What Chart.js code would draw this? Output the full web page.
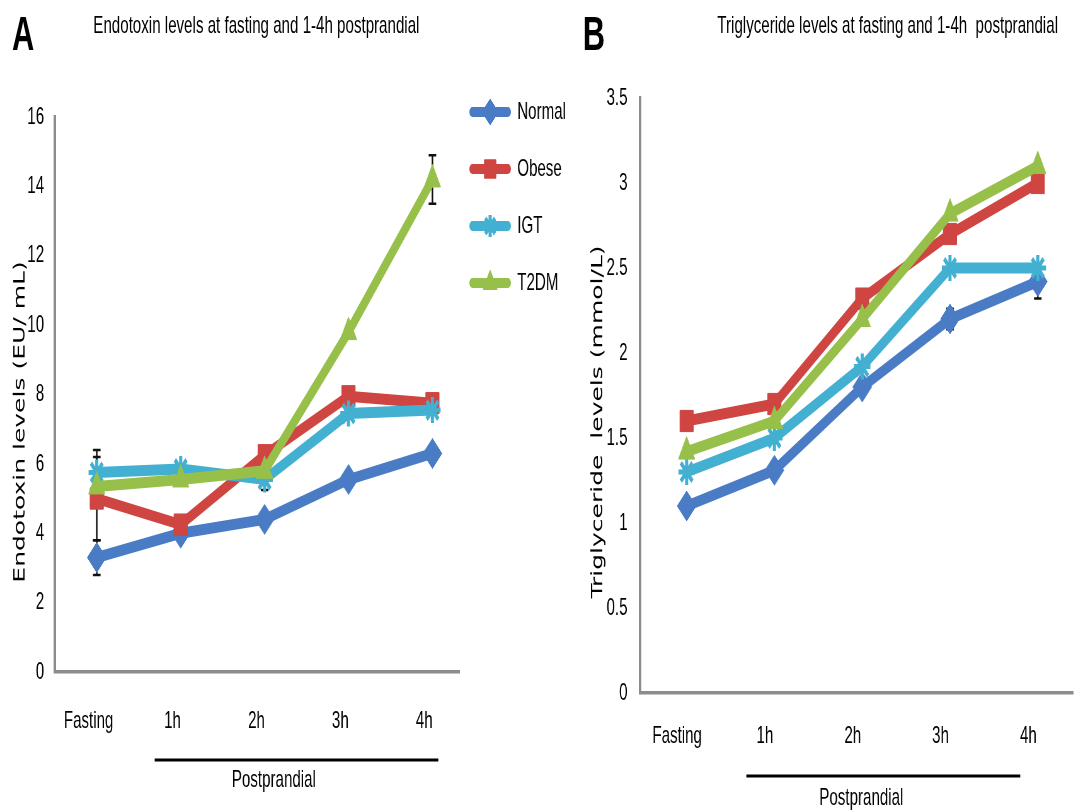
<!DOCTYPE html>
<html>
<head>
<meta charset="utf-8">
<script src="https://cdn.jsdelivr.net/npm/chart.js@4.4.1/dist/chart.umd.min.js"></script>
<style>
  body { margin: 0; background: #fff; overflow: hidden; }
  /* the figure is laid out wide, then squeezed horizontally */
  #fig { position: absolute; left: 0; top: 0; width: 1721px; height: 812px;
         transform: scaleX(0.63); transform-origin: 0 0; }
  .txt { position: absolute; font-family: "Liberation Sans", Arial, sans-serif;
         color: #000; white-space: nowrap; line-height: 1; }
  canvas { position: absolute; top: 0; }
</style>
</head>
<body>
<div id="fig">
  <div class="txt" style="left:19px; top:9px; font-size:49px; font-weight:bold;">A</div>
  <div class="txt" style="left:107px; width:600px; top:13px; font-size:24px; text-align:center;">Endotoxin levels at fasting and 1-4h postprandial</div>
  <div class="txt" style="left:925px; top:9px; font-size:49px; font-weight:bold;">B</div>
  <div class="txt" style="left:1109px; width:600px; top:13px; font-size:24px; text-align:center;">Triglyceride levels at fasting and 1-4h&nbsp; postprandial</div>
  <canvas id="chartA" width="910" height="812" style="left:0"></canvas>
  <canvas id="chartB" width="811" height="812" style="left:910px"></canvas>
</div>
<script>
// groups and time points
const groups = ['Normal', 'Obese', 'IGT', 'T2DM'];
const timeLabels = ['Fasting', '1h', '2h', '3h', '4h'];

// endotoxin (EU/mL)
const endoNormal = [3.3, 4.0, 4.4, 5.55, 6.3];
const endoObese  = [5.0, 4.25, 6.25, 7.95, 7.75];
const endoIGT    = [5.75, 5.85, 5.55, 7.45, 7.55];
const endoT2DM   = [5.35, 5.55, 5.8, 9.8, 14.2];
const endoNormalErr = [0.5, 0, 0, 0, 0];
const endoObeseErr  = [1.2, 0, 0, 0, 0];
const endoIGTErr    = [0.65, 0, 0.3, 0, 0];
const endoT2DMErr   = [0, 0, 0, 0, 0.7];

// triglyceride (mmol/L)
const tgNormal = [1.1, 1.31, 1.8, 2.2, 2.42];
const tgObese  = [1.6, 1.7, 2.32, 2.7, 3.0];
const tgIGT    = [1.3, 1.5, 1.92, 2.5, 2.5];
const tgT2DM   = [1.42, 1.6, 2.2, 2.82, 3.1];
const tgNormalErr = [0, 0, 0, 0.06, 0.1];
const tgObeseErr  = [0, 0, 0, 0, 0];
const tgIGTErr    = [0, 0, 0, 0, 0];
const tgT2DMErr   = [0, 0, 0, 0, 0];

const palette = ['#4a7cc6', '#cf4541', '#43b0d2', '#97c04a'];
const markers = ['rectRot', 'rect', 'star', 'triangle'];
const markerRadius = [15, 15, 13, 15];
const markerBorder = [1, 1, 5, 1];

const tickFont = { family: '"Liberation Sans", Arial, sans-serif', size: 24 };

// error bars, extra axis titles, the "Postprandial" bracket and the legend
const panelDecor = {
  id: 'panelDecor',
  beforeDatasetsDraw(chart) {
    const ctx = chart.ctx;
    const ys = chart.scales.y;
    ctx.save();
    ctx.strokeStyle = '#111';
    ctx.lineWidth = 2.5;
    chart.data.datasets.forEach((ds, d) => {
      const meta = chart.getDatasetMeta(d);
      ds.errors.forEach((e, i) => {
        if (!e) return;
        const x = meta.data[i].x;
        const v = ds.data[i].y;
        const y1 = ys.getPixelForValue(v + e);
        const y2 = ys.getPixelForValue(v - e);
        ctx.beginPath();
        ctx.moveTo(x, y1); ctx.lineTo(x, y2);
        ctx.moveTo(x - 6, y1); ctx.lineTo(x + 6, y1);
        ctx.moveTo(x - 6, y2); ctx.lineTo(x + 6, y2);
        ctx.stroke();
      });
    });
    ctx.restore();
  },
  afterDraw(chart, args, opts) {
    const ctx = chart.ctx;
    const xs = chart.scales.x;
    ctx.save();
    ctx.fillStyle = '#000';

    // rotated y-axis title
    ctx.save();
    ctx.translate(opts.yTitle.x, opts.yTitle.y);
    ctx.rotate(-Math.PI / 2);
    ctx.font = '25px "DejaVu Sans", Verdana, sans-serif';
    ctx.textAlign = 'center';
    ctx.textBaseline = 'middle';
    ctx.fillText(opts.yTitle.text, 0, 0);
    ctx.restore();

    // bracket under the postprandial time points
    const b = opts.bracket;
    ctx.strokeStyle = '#000';
    ctx.lineWidth = 3;
    ctx.beginPath();
    ctx.moveTo(xs.getPixelForValue(b.from), b.y);
    ctx.lineTo(xs.getPixelForValue(b.to), b.y);
    ctx.stroke();
    ctx.font = '24px "Liberation Sans", Arial, sans-serif';
    ctx.textAlign = 'center';
    ctx.textBaseline = 'middle';
    ctx.fillText(b.text, xs.getPixelForValue(b.at), b.textY);

    // legend: line sample with marker, then the group name
    const lg = opts.legend;
    if (lg) {
      chart.data.datasets.forEach((ds, d) => {
        const y = lg.top + d * lg.step;
        ctx.strokeStyle = ds.borderColor;
        ctx.fillStyle = ds.borderColor;
        ctx.lineWidth = 10;
        ctx.lineCap = 'round';
        ctx.beginPath();
        ctx.moveTo(lg.x0, y); ctx.lineTo(lg.x1, y);
        ctx.stroke();
        ctx.lineCap = 'butt';
        ctx.lineWidth = ds.pointBorderWidth;
        Chart.helpers.drawPoint(ctx, {
          pointStyle: ds.pointStyle, radius: ds.pointRadius - 2,
          rotation: 0, borderWidth: ds.pointBorderWidth
        }, (lg.x0 + lg.x1) / 2, y);
        ctx.fillStyle = '#000';
        ctx.font = '24px "Liberation Sans", Arial, sans-serif';
        ctx.textAlign = 'left';
        ctx.textBaseline = 'middle';
        ctx.fillText(ds.label, lg.textX, y);
      });
    }
    ctx.restore();
  }
};

function buildChart(id, series, errs, cfg) {
  const datasets = groups.map((name, g) => ({
    label: name,
    data: series[g].map((v, i) => ({ x: i, y: v })),
    errors: errs[g],
    borderColor: palette[g],
    backgroundColor: palette[g],
    borderWidth: 11,
    pointStyle: markers[g],
    pointRadius: markerRadius[g],
    pointBorderWidth: markerBorder[g],
    pointBorderColor: palette[g],
    pointBackgroundColor: palette[g],
    order: groups.length - g
  }));

  return new Chart(document.getElementById(id), {
    type: 'line',
    data: { datasets },
    plugins: [panelDecor],
    options: {
      responsive: false,
      animation: false,
      layout: { padding: cfg.padding },
      plugins: {
        legend: { display: false },
        tooltip: { enabled: false },
        panelDecor: cfg.decor
      },
      scales: {
        x: {
          type: 'linear',
          min: cfg.xMin,
          max: cfg.xMax,
          afterBuildTicks: s => { s.ticks = timeLabels.map((_, i) => ({ value: i })); },
          afterFit: s => { s.height = cfg.xHeight; },
          grid: { display: false },
          border: { display: true, color: '#8c8c8c', width: 3.5 },
          ticks: {
            autoSkip: false, maxRotation: 0, labelOffset: cfg.xShift,
            padding: cfg.xPad, color: '#000', font: tickFont,
            callback: v => timeLabels[v]
          }
        },
        y: {
          min: 0,
          max: cfg.yMax,
          afterFit: s => { s.width = cfg.yWidth; },
          grid: { display: false },
          border: { display: true, color: '#8c8c8c', width: 4 },
          ticks: {
            stepSize: cfg.yStep, padding: cfg.yPad, color: '#000', font: tickFont,
            callback: v => String(v)
          }
        }
      }
    }
  });
}

const chartA = buildChart('chartA',
  [endoNormal, endoObese, endoIGT, endoT2DM],
  [endoNormalErr, endoObeseErr, endoIGTErr, endoT2DMErr],
  {
    padding: { top: 117, left: 0, right: 181, bottom: 0 },
    xMin: -0.5, xMax: 4.32, xHeight: 140, xPad: 27, xShift: -13,
    yMax: 16, yStep: 2, yWidth: 87, yPad: 9,
    decor: {
      yTitle: { text: 'Endotoxin levels (EU/ mL)', x: 32, y: 422 },
      bracket: { from: 0.69, to: 4.07, y: 760, text: 'Postprandial', at: 2.11, textY: 780 },
      legend: { x0: 750, x1: 806, textX: 821, top: 112, step: 57 }
    }
  });

const chartB = buildChart('chartB',
  [tgNormal, tgObese, tgIGT, tgT2DM],
  [tgNormalErr, tgObeseErr, tgIGTErr, tgT2DMErr],
  {
    padding: { top: 98, left: 0, right: 0, bottom: 0 },
    xMin: -0.53, xMax: 4.4, xHeight: 119, xPad: 21, xShift: -15,
    yMax: 3.5, yStep: 0.5, yWidth: 106, yPad: 12,
    decor: {
      yTitle: { text: 'Triglyceride  levels (mmol/L)', x: 39, y: 422 },
      bracket: { from: 0.68, to: 3.8, y: 776, text: 'Postprandial', at: 1.99, textY: 798 }
    }
  });
</script>
</body>
</html>
